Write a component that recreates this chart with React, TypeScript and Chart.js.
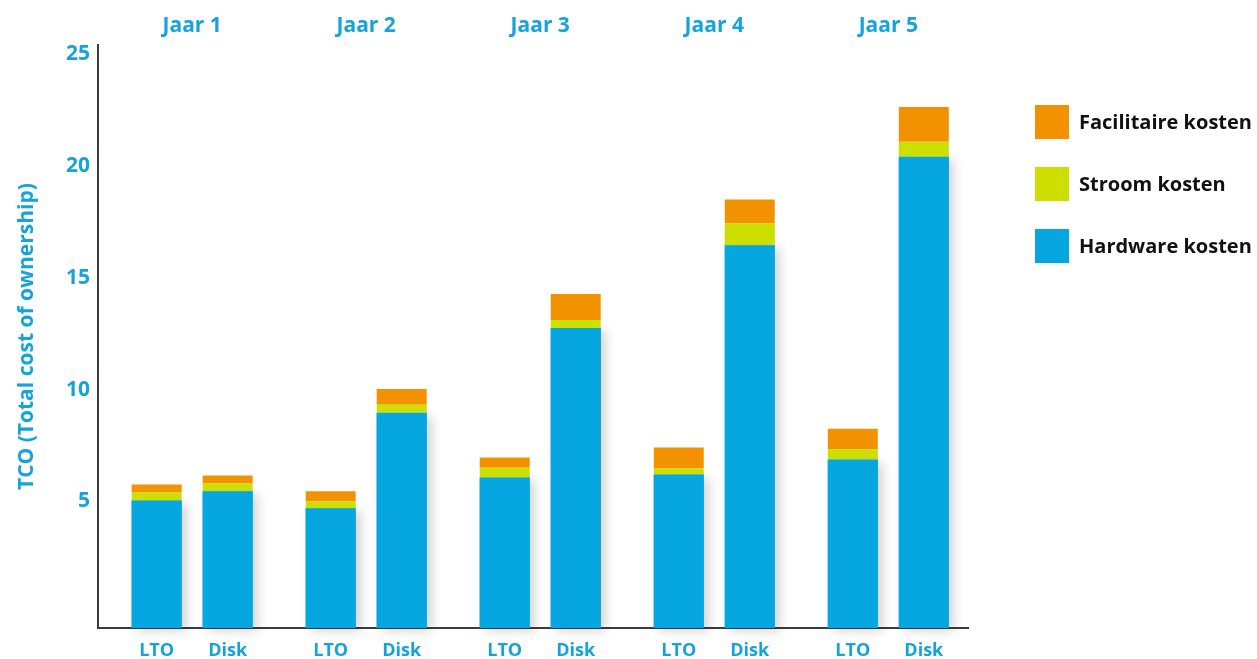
import { useEffect, useRef } from 'react';
import { Chart, registerables } from 'chart.js';

Chart.register(...registerables);

// ---- data ----
const years = ['Jaar 1', 'Jaar 2', 'Jaar 3', 'Jaar 4', 'Jaar 5'];
const media = ['LTO', 'Disk'];
const seriesNames = ['Hardware kosten', 'Stroom kosten', 'Facilitaire kosten'];
const hardwareLTO = [5.04, 4.69, 6.07, 6.2, 6.87];
const hardwareDisk = [5.45, 8.96, 12.75, 16.45, 20.41];
const stroomLTO = [0.36, 0.31, 0.44, 0.27, 0.45];
const stroomDisk = [0.35, 0.36, 0.36, 0.98, 0.67];
const facilitairLTO = [0.36, 0.45, 0.45, 0.94, 0.93];
const facilitairDisk = [0.36, 0.71, 1.16, 1.07, 1.56];
const yTicks = [5, 10, 15, 20, 25];
const yTitle = 'TCO (Total cost of ownership)';

// ---- style ----
const Y_MIN = -0.66;
const Y_MAX = 25.4;
const X_MIN = -0.541;
const X_MAX = 4.458;
const BLUE = '#06a6e0';
const GREEN = '#cddf00';
const ORANGE = '#f39200';
const TEXT_BLUE = '#15a3dc';
const FONT = "'Open Sans', 'Noto Sans', sans-serif";
const colors = [BLUE, GREEN, ORANGE];

const toPoints = (vals: number[]) => vals.map((y, i) => ({ x: i, y }));

const makeDataset = (series: number, vals: number[], stack: string) => ({
  label: seriesNames[series],
  data: toPoints(vals),
  stack,
  backgroundColor: colors[series],
  borderWidth: 0,
  categoryPercentage: 0.816,
  barPercentage: 0.704,
  ...(series === 0 ? { base: Y_MIN } : {}),
});

const shadowPlugin = {
  id: 'barShadow',
  beforeDatasetsDraw(chart: any) {
    const ctx = chart.ctx;
    chart.data.datasets.forEach((ds: any, di: number) => {
      if (ds.label !== seriesNames[0]) return;
      const meta = chart.getDatasetMeta(di);
      meta.data.forEach((el: any) => {
        ctx.save();
        ctx.shadowColor = 'rgba(0,0,0,0.17)';
        ctx.shadowBlur = 10;
        ctx.shadowOffsetX = 5;
        ctx.shadowOffsetY = 3;
        ctx.fillStyle = BLUE;
        ctx.fillRect(el.x - el.width / 2, el.y, el.width, el.base - el.y);
        ctx.restore();
      });
    });
  },
};

const mediaLabelPlugin = {
  id: 'mediaLabels',
  afterDraw(chart: any) {
    const ctx = chart.ctx;
    ctx.save();
    ctx.font = `bold 18px ${FONT}`;
    ctx.fillStyle = TEXT_BLUE;
    ctx.textAlign = 'center';
    ctx.textBaseline = 'middle';
    chart.data.datasets.forEach((ds: any, di: number) => {
      if (ds.label !== seriesNames[0]) return;
      const meta = chart.getDatasetMeta(di);
      meta.data.forEach((el: any) => {
        ctx.fillText(ds.stack, el.x, chart.chartArea.bottom + 23);
      });
    });
    ctx.restore();
  },
};

const legendPlugin = {
  id: 'sideLegend',
  afterDraw(chart: any) {
    const ctx = chart.ctx;
    ctx.save();
    ctx.font = `bold 20px ${FONT}`;
    ctx.textAlign = 'left';
    ctx.textBaseline = 'middle';
    const order = [2, 1, 0];
    order.forEach((s, k) => {
      const top = 105 + k * 62;
      ctx.fillStyle = colors[s];
      ctx.fillRect(1035, top, 34, 34);
      ctx.fillStyle = '#111111';
      ctx.fillText(seriesNames[s], 1079, top + 18);
    });
    ctx.restore();
  },
};

export default function App() {
  const ref = useRef<HTMLCanvasElement | null>(null);

  useEffect(() => {
    if (!ref.current) return;
    const chart = new Chart(ref.current, {
      type: 'bar',
      data: {
        datasets: [
          makeDataset(0, hardwareLTO, media[0]),
          makeDataset(1, stroomLTO, media[0]),
          makeDataset(2, facilitairLTO, media[0]),
          makeDataset(0, hardwareDisk, media[1]),
          makeDataset(1, stroomDisk, media[1]),
          makeDataset(2, facilitairDisk, media[1]),
        ] as any,
      },
      options: {
        animation: false,
        responsive: false,
        events: [],
        layout: { padding: { left: 8, right: 289, top: 6, bottom: 31 } },
        plugins: {
          legend: { display: false },
          tooltip: { enabled: false },
        },
        scales: {
          x: {
            type: 'linear',
            position: 'bottom',
            min: X_MIN,
            max: X_MAX,
            offset: false,
            z: 1,
            grid: { display: false, drawTicks: false, offset: false },
            border: { display: true, color: '#3c3c3c', width: 2 },
            ticks: { display: false },
            afterBuildTicks: (scale: any) => {
              scale.ticks = years.map((_, i) => ({ value: i }));
            },
          },
          x2: {
            type: 'linear',
            position: 'top',
            min: X_MIN,
            max: X_MAX,
            offset: false,
            grid: { display: false, drawTicks: false },
            border: { display: false },
            ticks: {
              padding: 7,
              color: TEXT_BLUE,
              font: { family: FONT, size: 21, weight: 'bold' },
              autoSkip: false,
              maxRotation: 0,
              callback: (v: any) => years[Math.round(Number(v))] ?? '',
            },
            afterBuildTicks: (scale: any) => {
              scale.ticks = years.map((_, i) => ({ value: i }));
            },
          },
          y: {
            type: 'linear',
            stacked: true,
            min: Y_MIN,
            max: Y_MAX,
            grid: { display: false, drawTicks: false },
            border: { display: true, color: '#3c3c3c', width: 2 },
            title: {
              display: true,
              text: yTitle,
              color: TEXT_BLUE,
              font: { family: FONT, size: 21, weight: 'bold' },
              padding: { top: 6, bottom: 0 },
            },
            ticks: {
              padding: 8,
              color: TEXT_BLUE,
              font: { family: FONT, size: 21, weight: 'bold' },
              callback: (v: any) => String(v),
            },
            afterBuildTicks: (scale: any) => {
              scale.ticks = yTicks.map((v) => ({ value: v }));
            },
            afterFit: (scale: any) => {
              scale.width = 90;
            },
          },
        },
      } as any,
      plugins: [shadowPlugin, mediaLabelPlugin, legendPlugin],
    });
    return () => chart.destroy();
  }, []);

  return (
    <div style={{ position: 'fixed', left: 0, top: 0, width: 1257, height: 659, background: '#ffffff' }}>
      <canvas ref={ref} width={1257} height={659} style={{ display: 'block' }} />
    </div>
  );
}
